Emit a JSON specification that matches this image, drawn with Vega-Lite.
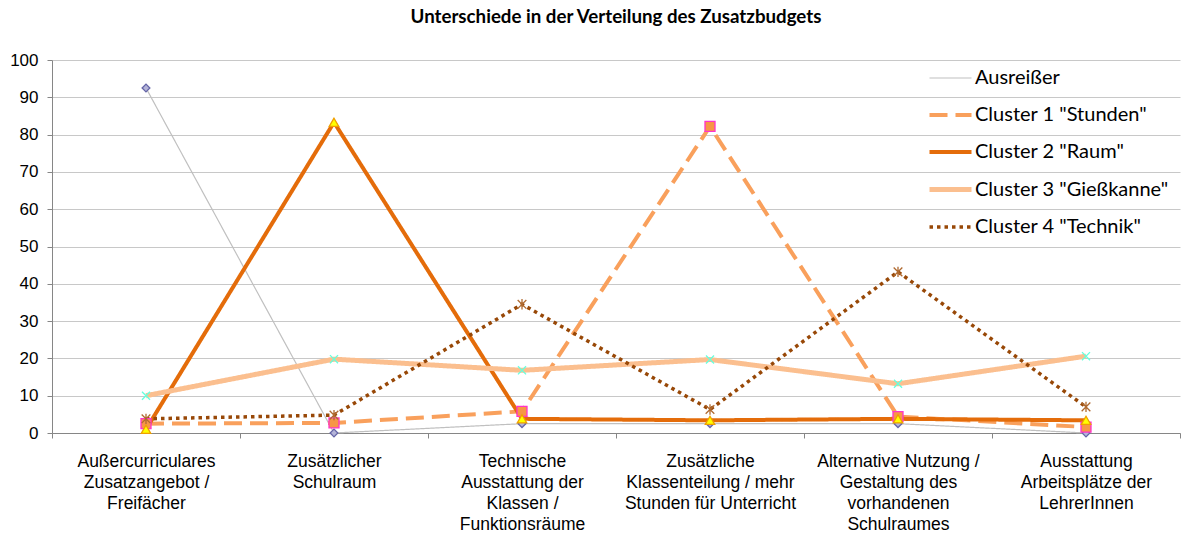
{
  "$schema": "https://vega.github.io/schema/vega-lite/v6.json",
  "width": 1128,
  "height": 373,
  "autosize": "none",
  "padding": {"left": 52, "top": 60, "right": 1, "bottom": 103},
  "background": "white",
  "config": {
    "font": "Lato",
    "view": {"stroke": null}
  },
  "title": {
    "text": "Unterschiede in der Verteilung des Zusatzbudgets",
    "font": "Lato",
    "fontSize": 18.7,
    "fontWeight": "bold",
    "color": "#000000",
    "anchor": "middle",
    "offset": 24
  },
  "data": {
    "values": [
      {"series": "Ausreißer", "category": "Außercurriculares Zusatzangebot / Freifächer", "value": 92.5},
      {"series": "Ausreißer", "category": "Zusätzlicher Schulraum", "value": 0},
      {"series": "Ausreißer", "category": "Technische Ausstattung der Klassen / Funktionsräume", "value": 2.5},
      {"series": "Ausreißer", "category": "Zusätzliche Klassenteilung / mehr Stunden für Unterricht", "value": 2.5},
      {"series": "Ausreißer", "category": "Alternative Nutzung / Gestaltung des vorhandenen Schulraumes", "value": 2.5},
      {"series": "Ausreißer", "category": "Ausstattung Arbeitsplätze der LehrerInnen", "value": 0},
      {"series": "Cluster 1 \"Stunden\"", "category": "Außercurriculares Zusatzangebot / Freifächer", "value": 2.5},
      {"series": "Cluster 1 \"Stunden\"", "category": "Zusätzlicher Schulraum", "value": 2.7},
      {"series": "Cluster 1 \"Stunden\"", "category": "Technische Ausstattung der Klassen / Funktionsräume", "value": 5.8},
      {"series": "Cluster 1 \"Stunden\"", "category": "Zusätzliche Klassenteilung / mehr Stunden für Unterricht", "value": 82.2},
      {"series": "Cluster 1 \"Stunden\"", "category": "Alternative Nutzung / Gestaltung des vorhandenen Schulraumes", "value": 4.4},
      {"series": "Cluster 1 \"Stunden\"", "category": "Ausstattung Arbeitsplätze der LehrerInnen", "value": 1.6},
      {"series": "Cluster 2 \"Raum\"", "category": "Außercurriculares Zusatzangebot / Freifächer", "value": 1.0},
      {"series": "Cluster 2 \"Raum\"", "category": "Zusätzlicher Schulraum", "value": 83.3},
      {"series": "Cluster 2 \"Raum\"", "category": "Technische Ausstattung der Klassen / Funktionsräume", "value": 3.8},
      {"series": "Cluster 2 \"Raum\"", "category": "Zusätzliche Klassenteilung / mehr Stunden für Unterricht", "value": 3.4},
      {"series": "Cluster 2 \"Raum\"", "category": "Alternative Nutzung / Gestaltung des vorhandenen Schulraumes", "value": 3.8},
      {"series": "Cluster 2 \"Raum\"", "category": "Ausstattung Arbeitsplätze der LehrerInnen", "value": 3.4},
      {"series": "Cluster 3 \"Gießkanne\"", "category": "Außercurriculares Zusatzangebot / Freifächer", "value": 10.0},
      {"series": "Cluster 3 \"Gießkanne\"", "category": "Zusätzlicher Schulraum", "value": 19.8},
      {"series": "Cluster 3 \"Gießkanne\"", "category": "Technische Ausstattung der Klassen / Funktionsräume", "value": 16.8},
      {"series": "Cluster 3 \"Gießkanne\"", "category": "Zusätzliche Klassenteilung / mehr Stunden für Unterricht", "value": 19.7},
      {"series": "Cluster 3 \"Gießkanne\"", "category": "Alternative Nutzung / Gestaltung des vorhandenen Schulraumes", "value": 13.2},
      {"series": "Cluster 3 \"Gießkanne\"", "category": "Ausstattung Arbeitsplätze der LehrerInnen", "value": 20.6},
      {"series": "Cluster 4 \"Technik\"", "category": "Außercurriculares Zusatzangebot / Freifächer", "value": 3.8},
      {"series": "Cluster 4 \"Technik\"", "category": "Zusätzlicher Schulraum", "value": 4.8},
      {"series": "Cluster 4 \"Technik\"", "category": "Technische Ausstattung der Klassen / Funktionsräume", "value": 34.5},
      {"series": "Cluster 4 \"Technik\"", "category": "Zusätzliche Klassenteilung / mehr Stunden für Unterricht", "value": 6.3},
      {"series": "Cluster 4 \"Technik\"", "category": "Alternative Nutzung / Gestaltung des vorhandenen Schulraumes", "value": 43.2},
      {"series": "Cluster 4 \"Technik\"", "category": "Ausstattung Arbeitsplätze der LehrerInnen", "value": 7.0}
    ]
  },
  "encoding": {
    "x": {
      "field": "category",
      "type": "nominal",
      "sort": null,
      "bandPosition": 0.5,
      "scale": {"type": "band", "paddingInner": 0, "paddingOuter": 0},
      "axis": {
        "title": null,
        "labelAngle": 0,
        "tickBand": "extent",
        "domainColor": "#868686",
        "tickColor": "#868686",
        "tickSize": 5,
        "labelFont": "Liberation Sans",
        "labelFontSize": 17.5,
        "labelColor": "#000000",
        "labelPadding": 14,
        "labelLineHeight": 21,
        "labelBaseline": "top",
        "labelLimit": 300,
        "grid": false,
        "labelExpr": "datum.value == 'Außercurriculares Zusatzangebot / Freifächer' ? ['Außercurriculares','Zusatzangebot /','Freifächer'] : datum.value == 'Zusätzlicher Schulraum' ? ['Zusätzlicher','Schulraum'] : datum.value == 'Technische Ausstattung der Klassen / Funktionsräume' ? ['Technische','Ausstattung der','Klassen /','Funktionsräume'] : datum.value == 'Zusätzliche Klassenteilung / mehr Stunden für Unterricht' ? ['Zusätzliche','Klassenteilung / mehr','Stunden für Unterricht'] : datum.value == 'Alternative Nutzung / Gestaltung des vorhandenen Schulraumes' ? ['Alternative Nutzung /','Gestaltung des','vorhandenen','Schulraumes'] : datum.value == 'Ausstattung Arbeitsplätze der LehrerInnen' ? ['Ausstattung','Arbeitsplätze der','LehrerInnen'] : ''"
      }
    },
    "y": {
      "field": "value",
      "type": "quantitative",
      "scale": {"domain": [0, 100], "nice": false},
      "axis": {
        "title": null,
        "values": [0, 10, 20, 30, 40, 50, 60, 70, 80, 90, 100],
        "domainColor": "#868686",
        "tickColor": "#868686",
        "tickSize": 5,
        "gridColor": "#c8c8c8",
        "labelFont": "Liberation Sans",
        "labelFontSize": 17,
        "labelColor": "#000000",
        "labelPadding": 9
      }
    }
  },
  "layer": [
    {
      "mark": {"type": "line", "strokeCap": "butt", "strokeJoin": "miter"},
      "encoding": {
        "color": {
          "field": "series",
          "type": "nominal",
          "scale": {
            "domain": ["Ausreißer", "Cluster 1 \"Stunden\"", "Cluster 2 \"Raum\"", "Cluster 3 \"Gießkanne\"", "Cluster 4 \"Technik\""],
            "range": ["#c0c0c0", "#f9a05c", "#e46c0a", "#fbbf8f", "#984807"]
          },
          "legend": {
            "title": null,
            "orient": "none",
            "legendX": 875,
            "legendY": -4,
            "symbolType": "stroke",
            "symbolSize": 1764,
            "labelFont": "Lato",
            "labelFontSize": 20,
            "labelColor": "#000000",
            "labelLimit": 400,
            "rowPadding": 4,
            "labelOffset": 1
          }
        },
        "strokeDash": {
          "field": "series",
          "type": "nominal",
          "scale": {
            "domain": ["Ausreißer", "Cluster 1 \"Stunden\"", "Cluster 2 \"Raum\"", "Cluster 3 \"Gießkanne\"", "Cluster 4 \"Technik\""],
            "range": [[1, 0], [18, 8], [1, 0], [1, 0], [3.5, 4]]
          }
        },
        "strokeWidth": {
          "field": "series",
          "type": "nominal",
          "scale": {
            "type": "ordinal",
            "domain": ["Ausreißer", "Cluster 1 \"Stunden\"", "Cluster 2 \"Raum\"", "Cluster 3 \"Gießkanne\"", "Cluster 4 \"Technik\""],
            "range": [1.2, 4, 4, 5, 3.5]
          }
        }
      }
    },
    {
      "mark": {"type": "point", "filled": true, "opacity": 1, "strokeWidth": 1.3},
      "encoding": {
        "shape": {
          "field": "series",
          "type": "nominal",
          "scale": {
            "domain": ["Cluster 4 \"Technik\"", "Cluster 3 \"Gießkanne\"", "Cluster 2 \"Raum\"", "Cluster 1 \"Stunden\"", "Ausreißer"],
            "range": ["M-1,-1L1,1M1,-1L-1,1M0,-1.2L0,1.2", "M-1,-1L1,1M1,-1L-1,1", "triangle-up", "square", "diamond"]
          },
          "legend": null
        },
        "fill": {
          "field": "series",
          "type": "nominal",
          "scale": {
            "domain": ["Cluster 4 \"Technik\"", "Cluster 3 \"Gießkanne\"", "Cluster 2 \"Raum\"", "Cluster 1 \"Stunden\"", "Ausreißer"],
            "range": ["#c07a40", "#66ffdd", "#ffff00", "#f79646", "#b4b4d8"]
          },
          "legend": null
        },
        "stroke": {
          "field": "series",
          "type": "nominal",
          "scale": {
            "domain": ["Cluster 4 \"Technik\"", "Cluster 3 \"Gießkanne\"", "Cluster 2 \"Raum\"", "Cluster 1 \"Stunden\"", "Ausreißer"],
            "range": ["#b06a30", "#66ffdd", "#f0a000", "#ff33cc", "#6666a8"]
          },
          "legend": null
        },
        "size": {
          "field": "series",
          "type": "nominal",
          "scale": {
            "type": "ordinal",
            "domain": ["Cluster 4 \"Technik\"", "Cluster 3 \"Gießkanne\"", "Cluster 2 \"Raum\"", "Cluster 1 \"Stunden\"", "Ausreißer"],
            "range": [75, 65, 90, 100, 60]
          },
          "legend": null
        }
      }
    }
  ]
}
